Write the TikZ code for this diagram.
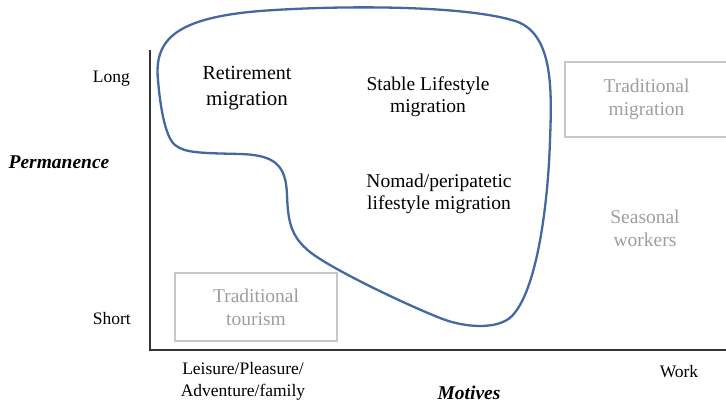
\documentclass[tikz,border=0pt]{standalone}
\usepackage{fontspec}
\setmainfont{Liberation Serif}
\definecolor{blobblue}{HTML}{4369A0}
\begin{document}
\begin{tikzpicture}[x=1pt,y=-1pt,
  axis/.style={draw=black!80, line width=1.2pt},
  blob/.style={draw=blobblue, line width=2.3pt},
  axislabel/.style={inner sep=0pt, font=\fontsize{17.5}{22}\selectfont, text=black},
  axistitle/.style={inner sep=0pt, font=\fontsize{19.5}{22}\selectfont\bfseries\itshape},
  kind/.style={inner sep=0pt, align=center, font=\fontsize{19.5}{22}\selectfont},
  faded/.style={inner sep=0pt, align=center, text=black!38, font=\fontsize{19.5}{23}\selectfont},
  fadedbox/.style={faded, draw=black!22, line width=1.3pt}]
\useasboundingbox (0,0) rectangle (726,405);

% axes
\coordinate (ytop) at (150,50);
\coordinate (origin) at (150,350);
\coordinate (xend) at (727,350);
\draw[axis] (ytop) -- (origin) -- (xend);

% lifestyle migration region
\draw[blob] (158,80)
  .. controls (154,40) and (175,18) .. (260,11)
  .. controls (340,5) and (470,5) .. (518,22)
  .. controls (553,36) and (552,90) .. (550,140)
  .. controls (548,205) and (537,290) .. (512,316)
  .. controls (498,330) and (465,328) .. (440,318)
  .. controls (400,302) and (330,268) .. (310,252)
  .. controls (290,236) and (288,220) .. (287,195)
  .. controls (286,165) and (275,155) .. (240,154)
  .. controls (200,153) and (185,153) .. (175,145)
  .. controls (165,137) and (160,105) .. (158,80) -- cycle;

% axis labels
\node[axislabel, anchor=east] (long) at (130,79) {Long};
\node[axislabel, anchor=east] (short) at (131,319) {Short};
\node[axistitle] (perm) at (59,162) {Permanence};
\node[axislabel, align=center] (leisure) at (243,381) {Leisure/Pleasure/\\Adventure/family};
\node[axistitle] (motives) at (469,393) {Motives};
\node[axislabel] (work) at (679,372) {Work};

% migration kinds inside the region
\node[kind, font=\fontsize{20}{26}\selectfont] (retire) at (247,88) {Retirement\\{\fontsize{21}{26}\selectfont migration}};
\node[kind] (stable) at (428,97) {Stable Lifestyle\\migration};
\node[kind] (nomad) at (439,194) {Nomad/peripatetic\\lifestyle migration};

% other kinds of mobility
\node[fadedbox, minimum width=163, minimum height=75] (tmig) at (646.5,99.5) {Traditional\\migration};
\node[faded] (season) at (645,228.5) {Seasonal\\workers};
\node[fadedbox, minimum width=162, minimum height=68] (tour) at (256,307) {Traditional\\tourism};
\end{tikzpicture}
\end{document}
